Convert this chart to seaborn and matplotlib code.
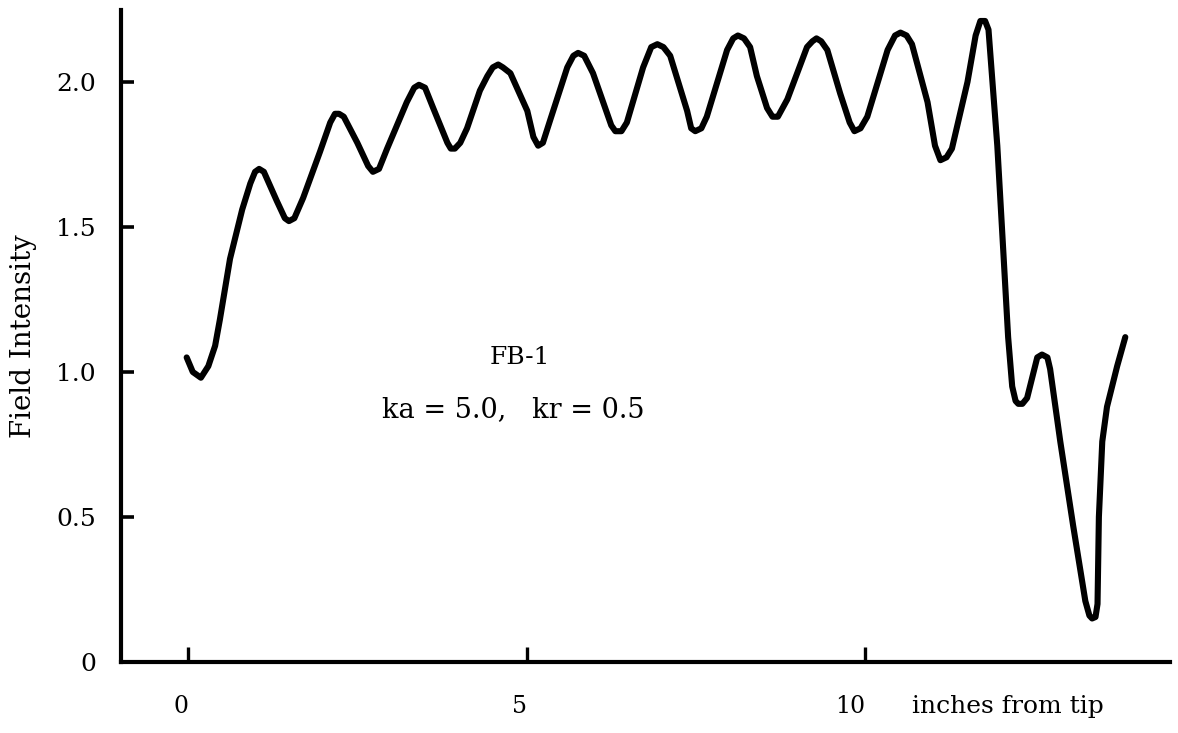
import matplotlib
matplotlib.use("Agg")
import matplotlib.pyplot as plt
import seaborn as sns
import pandas as pd

# Field intensity measured along the antenna, in inches from the tip
distance = [
    -0.02, 0.07, 0.19, 0.30, 0.40, 0.47, 0.62, 0.80, 0.92, 0.99, 1.05, 1.12,
    1.31, 1.43, 1.49, 1.57, 1.70, 1.95, 2.10, 2.17, 2.23, 2.30, 2.50, 2.66,
    2.73, 2.82, 2.94, 3.23, 3.34, 3.41, 3.50, 3.62, 3.83, 3.88, 3.94, 4.02,
    4.12, 4.31, 4.42, 4.50, 4.58, 4.65, 4.76, 5.01, 5.10, 5.17, 5.24, 5.35,
    5.60, 5.69, 5.76, 5.85, 5.98, 6.19, 6.25, 6.31, 6.40, 6.48, 6.72, 6.84,
    6.93, 7.02, 7.12, 7.37, 7.43, 7.49, 7.58, 7.66, 7.96, 8.05, 8.12, 8.21,
    8.30, 8.40, 8.55, 8.63, 8.71, 8.85, 9.14, 9.22, 9.28, 9.35, 9.44, 9.63,
    9.77, 9.84, 9.93, 10.03, 10.33, 10.44, 10.52, 10.61, 10.69, 10.92, 11.03,
    11.11, 11.20, 11.28, 11.51, 11.63, 11.70, 11.77, 11.82, 11.95, 12.04,
    12.11, 12.17, 12.22, 12.26, 12.32, 12.39, 12.54, 12.61, 12.69, 12.73,
    12.88, 13.07, 13.25, 13.31, 13.35, 13.40, 13.43, 13.45, 13.50, 13.57,
    13.72, 13.84,
]
intensity = [
    1.05, 1.00, 0.98, 1.02, 1.09, 1.18, 1.39, 1.56, 1.65, 1.69, 1.70, 1.69,
    1.59, 1.53, 1.52, 1.53, 1.60, 1.76, 1.86, 1.89, 1.89, 1.88, 1.79, 1.71,
    1.69, 1.70, 1.77, 1.93, 1.98, 1.99, 1.98, 1.91, 1.79, 1.77, 1.77, 1.79,
    1.84, 1.97, 2.02, 2.05, 2.06, 2.05, 2.03, 1.90, 1.81, 1.78, 1.79, 1.87,
    2.05, 2.09, 2.10, 2.09, 2.03, 1.89, 1.85, 1.83, 1.83, 1.86, 2.05, 2.12,
    2.13, 2.12, 2.09, 1.90, 1.84, 1.83, 1.84, 1.88, 2.11, 2.15, 2.16, 2.15,
    2.12, 2.02, 1.91, 1.88, 1.88, 1.94, 2.12, 2.14, 2.15, 2.14, 2.11, 1.96,
    1.86, 1.83, 1.84, 1.88, 2.11, 2.16, 2.17, 2.16, 2.13, 1.93, 1.78,
    1.73, 1.74, 1.77, 2.00, 2.16, 2.21, 2.21, 2.18, 1.78, 1.41,
    1.12, 0.95, 0.90, 0.89, 0.89, 0.91, 1.05, 1.06, 1.05, 1.01,
    0.76, 0.47, 0.21, 0.16, 0.15, 0.155, 0.20, 0.50, 0.76, 0.88,
    1.02, 1.12,
]

x_ticks = [0, 5, 10]
x_tick_labels = ["0", "5", "10"]
y_ticks = [0, 0.5, 1.0, 1.5, 2.0]
y_tick_labels = ["0", "0.5", "1.0", "1.5", "2.0"]

title_text = "FB-1"
param_text = "ka = 5.0,   kr = 0.5"
x_label = "inches from tip"
y_label = "Field Intensity"

sns.set_theme(style="white")
plt.rcParams["font.family"] = ["DejaVu Serif", "DejaVu Sans"]

df = pd.DataFrame({"distance": distance, "intensity": intensity})

fig = plt.figure(figsize=(11.78, 7.33), dpi=100)
ax = fig.add_axes([0.1027, 0.0969, 0.8905, 0.8895])

sns.lineplot(data=df, x="distance", y="intensity", ax=ax, color="black",
             linewidth=4.4, sort=False, estimator=None)
for ln in ax.get_lines():
    ln.set_solid_capstyle("round")
    ln.set_solid_joinstyle("round")

ax.set_xlim(-0.99, 14.5)
ax.set_ylim(0, 2.248)

for side in ("top", "right"):
    ax.spines[side].set_visible(False)
for side in ("left", "bottom"):
    ax.spines[side].set_linewidth(3.0)
    ax.spines[side].set_color("black")

ax.set_xticks(x_ticks)
ax.set_xticklabels(x_tick_labels)
ax.set_yticks(y_ticks)
ax.set_yticklabels(y_tick_labels)
ax.tick_params(axis="x", bottom=True, direction="in", length=11, width=2.4,
               color="black", pad=24, labelsize=17, labelcolor="black")
ax.tick_params(axis="y", left=True, direction="in", length=9, width=2.6,
               color="black", pad=18, labelsize=18, labelcolor="black")
for lbl in ax.get_xticklabels():
    lbl.set_horizontalalignment("right")
ax.set_xlabel("")
ax.set_ylabel(y_label, fontsize=20, labelpad=14, color="black")

ax.annotate(x_label, xy=(12.1, 0), xycoords=("data", "axes fraction"),
            xytext=(0, -32), textcoords="offset points",
            ha="center", va="center", fontsize=18, color="black")
ax.text(4.9, 1.05, title_text, ha="center", va="center", fontsize=18,
        color="black")
ax.text(4.8, 0.87, param_text, ha="center", va="center", fontsize=19.5,
        color="black")

fig.savefig("out.png", dpi=100, facecolor="white")
